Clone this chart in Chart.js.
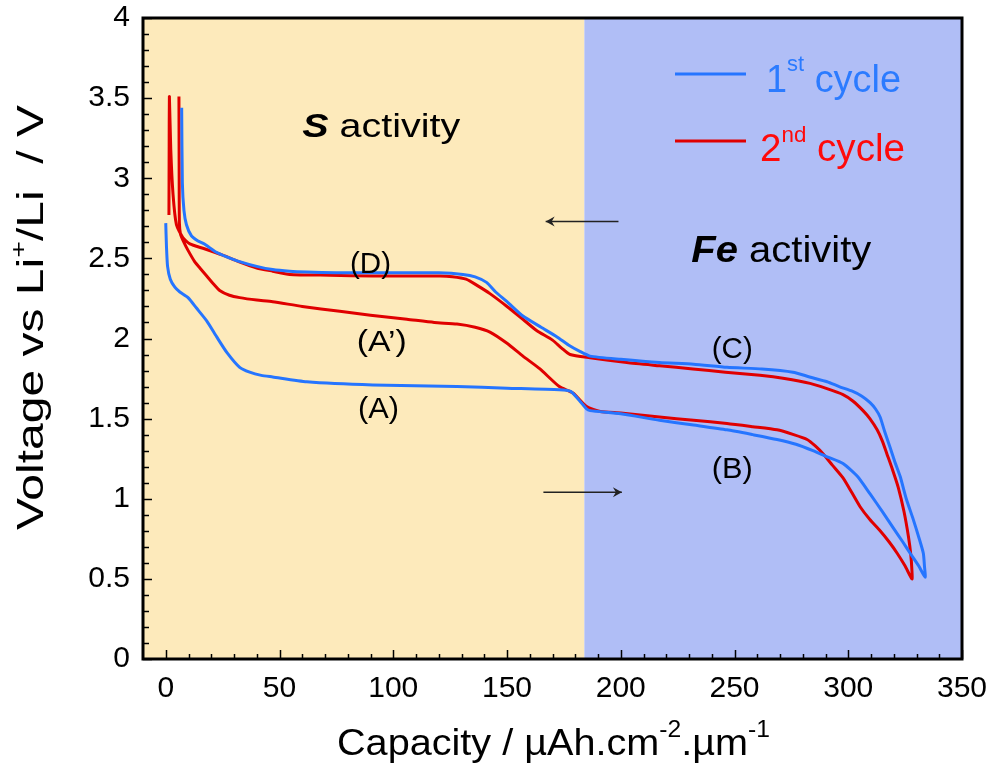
<!DOCTYPE html>
<html>
<head>
<meta charset="utf-8">
<script src="https://cdn.jsdelivr.net/npm/chart.js@4.4.1/dist/chart.umd.min.js"></script>
<style>
  html, body { margin: 0; padding: 0; background: #fff; }
  #wrap { width: 990px; height: 766px; }
</style>
</head>
<body>
<div id="wrap"><canvas id="cvChart" width="990" height="766"></canvas></div>
<script>
// axis ticks
const xTicks = [0, 50, 100, 150, 200, 250, 300, 350];
const yTicks = [0, 0.5, 1, 1.5, 2, 2.5, 3, 3.5, 4];

// S / Fe boundary (capacity)
const regionSplit = 184;

// 1st cycle : discharge (A -> B) then charge (C -> D)
const cycle1Cap = [
  0, 0.3, 0.8, 2, 4, 6.2, 9.8, 13.5, 18, 22.4, 27, 32.5, 36.9, 42, 47, 62, 91, 128, 150, 173,
  178, 182, 185, 186.5, 200, 217, 232, 246.7, 258, 268.7, 277, 284.5, 291, 297.7, 304, 309.6,
  315, 319.7, 324, 327.2, 331, 333.8,
  333.5, 333, 331, 328.6, 325.5, 322.8, 320.5, 318.4, 316, 314, 312, 309.6, 306, 302, 296,
  290.7, 283, 275.7, 262, 246.7, 232, 217, 200, 186.5, 182, 177, 172, 165, 157, 150, 145, 141,
  136, 130.6, 120, 106, 90, 75, 62, 54.5, 47, 40, 32.5, 26.8, 22, 17, 14, 11.3, 9.1, 8, 7.3, 7
];
const cycle1Volt = [
  2.72, 2.58, 2.45, 2.37, 2.32, 2.29, 2.255, 2.19, 2.11, 2.01, 1.91, 1.82, 1.79, 1.77, 1.76, 1.73, 1.71, 1.70, 1.69, 1.68,
  1.67, 1.61, 1.56, 1.55, 1.53, 1.49, 1.46, 1.43, 1.40, 1.37, 1.34, 1.30, 1.26, 1.22, 1.14, 1.03,
  0.92, 0.82, 0.73, 0.66, 0.58, 0.51,
  0.58, 0.66, 0.76, 0.87, 1.0, 1.14, 1.23, 1.32, 1.42, 1.51, 1.56, 1.60, 1.64, 1.67, 1.70,
  1.73, 1.76, 1.79, 1.81, 1.82, 1.84, 1.85, 1.87, 1.89, 1.92, 1.96, 2.01, 2.07, 2.14, 2.23, 2.29, 2.35,
  2.385, 2.40, 2.41, 2.41, 2.41, 2.41, 2.415, 2.42, 2.43, 2.45, 2.48, 2.51, 2.54, 2.59, 2.61, 2.64, 2.71, 2.80, 2.97, 3.44
];

// 2nd cycle : discharge (A' -> B) then charge (C -> D)
const cycle2Cap = [
  5.8, 5.9, 6.0, 6.5, 8, 9.8, 12.7, 15, 18, 21, 23.7, 28, 32.5, 40, 47, 60, 76.5, 90, 106, 118,
  128, 136, 142.5, 150, 157, 164.5, 173, 179, 185, 191, 200, 217, 232, 246.7, 258, 268.7, 276,
  281.9, 285.5, 289, 293, 297.7, 301.5, 305.2, 309.5, 314, 318, 321.5, 325, 328,
  328, 327.5, 326.5, 324.5, 322, 319.5, 317, 315, 312.7, 309.5, 306.5, 302, 297.7, 290, 283.2,
  272, 261.2, 246, 231.7, 217, 202.7, 186.5, 177.7, 174, 170, 163, 157, 150, 142.5, 137, 132,
  126, 120.5, 106, 91, 72, 54.5, 47, 40, 32, 25, 17, 10.6, 7.5, 4.7, 3.2, 2.2, 1.6, 1.5, 1.4
];
const cycle2Volt = [
  3.51, 3.0, 2.72, 2.65, 2.60, 2.55, 2.48, 2.44, 2.39, 2.34, 2.30, 2.27, 2.255, 2.24, 2.23, 2.20, 2.17, 2.145, 2.12, 2.10,
  2.09, 2.07, 2.04, 1.97, 1.89, 1.81, 1.70, 1.66, 1.575, 1.545, 1.535, 1.51, 1.49, 1.47, 1.45, 1.43, 1.40,
  1.37, 1.33, 1.28, 1.21, 1.13, 1.04, 0.95, 0.87, 0.80, 0.73, 0.66, 0.58, 0.50,
  0.55, 0.65, 0.76, 0.92, 1.07, 1.18, 1.28, 1.36, 1.43, 1.50, 1.55, 1.61, 1.65, 1.69, 1.72,
  1.75, 1.77, 1.79, 1.81, 1.83, 1.85, 1.88, 1.90, 1.94, 1.99, 2.05, 2.12, 2.20, 2.28, 2.33, 2.37,
  2.385, 2.39, 2.39, 2.39, 2.395, 2.40, 2.42, 2.44, 2.48, 2.52, 2.56, 2.59, 2.63, 2.71, 2.90, 3.18, 3.51, 3.2, 2.77
];

// annotation text, anchored at (capacity, voltage)
const labelText = ['(D)', '(A\u2019)', '(A)', '(C)', '(B)'];
const labelCap = [81, 84, 84.5, 240, 240];
const labelVolt = [2.41, 1.92, 1.505, 1.876, 1.128];

const FONT = "'Liberation Sans', Arial, sans-serif";
const NARROW = "'Liberation Sans Narrow', 'Liberation Sans', Arial, sans-serif";
const blueLine = '#2575FF';
const redLine = '#E00000';
const tanBg = '#FDEABB';
const blueBg = '#B0BEF6';

function toPoints(xs, ys) {
  return xs.map((x, i) => ({ x: x, y: ys[i] }));
}

// text runs (with superscripts), stretched to a target width
function drawRuns(ctx, runs, x, y, fitWidth, rotate) {
  ctx.save();
  ctx.translate(x, y);
  if (rotate) ctx.rotate(-Math.PI / 2);
  let natural = 0;
  runs.forEach(r => { ctx.font = r.font; natural += ctx.measureText(r.text).width; });
  const k = fitWidth ? fitWidth / natural : 1;
  ctx.scale(k, 1);
  ctx.textAlign = 'left';
  ctx.textBaseline = 'alphabetic';
  let cx = 0;
  runs.forEach(r => {
    ctx.font = r.font;
    ctx.fillStyle = r.color || '#000';
    ctx.fillText(r.text, cx, r.dy || 0);
    cx += ctx.measureText(r.text).width;
  });
  ctx.restore();
}

function arrow(ctx, x1, y1, x2, y2) {
  const dir = Math.sign(x2 - x1);
  ctx.beginPath();
  ctx.moveTo(x1, y1);
  ctx.lineTo(x2, y2);
  ctx.stroke();
  ctx.beginPath();
  ctx.moveTo(x2, y2);
  ctx.lineTo(x2 - dir * 9, y2 - 5);
  ctx.lineTo(x2 - dir * 6, y2);
  ctx.lineTo(x2 - dir * 9, y2 + 5);
  ctx.closePath();
  ctx.fill();
}

const backgroundPlugin = {
  id: 'regions',
  beforeDatasetsDraw(chart) {
    const { ctx, chartArea: a, scales: { x } } = chart;
    const split = x.getPixelForValue(regionSplit);
    ctx.save();
    ctx.fillStyle = tanBg;
    ctx.fillRect(a.left, a.top, split - a.left, a.bottom - a.top);
    ctx.fillStyle = blueBg;
    ctx.fillRect(split, a.top, a.right - split, a.bottom - a.top);
    ctx.restore();
  }
};

const framePlugin = {
  id: 'frame',
  afterDatasetsDraw(chart) {
    const { ctx, chartArea: a, scales: { x, y } } = chart;
    ctx.save();
    ctx.strokeStyle = '#000';
    ctx.lineWidth = 1.5;
    // inside ticks on the left, every 0.1 V
    for (let i = 0; i <= 40; i++) {
      const py = Math.round(y.getPixelForValue(i / 10)) + 0.5;
      const len = i % 5 === 0 ? 9 : 6;
      ctx.beginPath();
      ctx.moveTo(a.left, py);
      ctx.lineTo(a.left + len, py);
      ctx.stroke();
    }
    // inside ticks at the bottom, every 10
    for (let v = 0; v <= 350; v += 10) {
      const px = Math.round(x.getPixelForValue(v)) + 0.5;
      const len = v % 50 === 0 ? 9 : 5;
      ctx.beginPath();
      ctx.moveTo(px, a.bottom);
      ctx.lineTo(px, a.bottom - len);
      ctx.stroke();
    }
    ctx.lineWidth = 3;
    ctx.strokeRect(a.left, a.top, a.right - a.left, a.bottom - a.top);
    ctx.restore();
  }
};

const textPlugin = {
  id: 'texts',
  afterDraw(chart) {
    const { ctx, scales: { x, y } } = chart;
    ctx.save();

    // region names
    drawRuns(ctx, [
      { text: 'S', font: 'italic bold 34px ' + FONT },
      { text: ' activity', font: '34px ' + FONT }
    ], x.getPixelForValue(60), y.getPixelForValue(3.257), 158);
    drawRuns(ctx, [
      { text: 'Fe', font: 'italic bold 36px ' + FONT },
      { text: ' activity', font: '36px ' + FONT }
    ], x.getPixelForValue(231), y.getPixelForValue(2.477), 180);

    // branch labels
    labelText.forEach((t, i) => {
      drawRuns(ctx, [{ text: t, font: '30px ' + FONT }],
        x.getPixelForValue(labelCap[i]), y.getPixelForValue(labelVolt[i]), t.length > 3 ? 50 : 41);
    });

    // direction arrows
    ctx.strokeStyle = '#222';
    ctx.fillStyle = '#222';
    ctx.lineWidth = 1.5;
    const ay1 = y.getPixelForValue(2.73);
    arrow(ctx, x.getPixelForValue(199), ay1, x.getPixelForValue(167), ay1);
    const ay2 = y.getPixelForValue(1.04);
    arrow(ctx, x.getPixelForValue(166), ay2, x.getPixelForValue(200.5), ay2);

    // legend
    ctx.lineWidth = 3;
    ctx.strokeStyle = blueLine;
    ctx.beginPath(); ctx.moveTo(675, 74); ctx.lineTo(746, 74); ctx.stroke();
    ctx.strokeStyle = redLine;
    ctx.beginPath(); ctx.moveTo(675, 141); ctx.lineTo(746, 141); ctx.stroke();
    drawRuns(ctx, [
      { text: '1', font: '38px ' + FONT, color: '#2B7BFF' },
      { text: 'st', font: '22px ' + FONT, color: '#2B7BFF', dy: -21 },
      { text: ' cycle', font: '38px ' + FONT, color: '#2B7BFF' }
    ], 766, 92, 135);
    drawRuns(ctx, [
      { text: '2', font: '38px ' + FONT, color: '#FF0A0A' },
      { text: 'nd', font: '22px ' + FONT, color: '#FF0A0A', dy: -19 },
      { text: ' cycle', font: '38px ' + FONT, color: '#FF0A0A' }
    ], 760, 161, 145);

    // axis titles
    drawRuns(ctx, [
      { text: 'Voltage vs Li', font: '37px ' + FONT },
      { text: '+', font: '22px ' + FONT, dy: -17 },
      { text: '/Li  / V', font: '37px ' + FONT }
    ], 43, 530, 425, true);
    drawRuns(ctx, [
      { text: 'Capacity / \u00B5Ah.cm', font: '37px ' + FONT },
      { text: '-2', font: '23px ' + FONT, dy: -18 },
      { text: '.\u00B5m', font: '37px ' + FONT },
      { text: '-1', font: '23px ' + FONT, dy: -18 }
    ], 337, 755, 433);

    ctx.restore();
  }
};

new Chart(document.getElementById('cvChart'), {
  type: 'scatter',
  data: {
    datasets: [
      {
        label: '1st cycle',
        data: toPoints(cycle1Cap, cycle1Volt),
        showLine: true,
        borderColor: blueLine,
        borderWidth: 3,
        pointRadius: 0,
        tension: 0.2
      },
      {
        label: '2nd cycle',
        data: toPoints(cycle2Cap, cycle2Volt),
        showLine: true,
        borderColor: redLine,
        borderWidth: 3,
        pointRadius: 0,
        tension: 0.2
      }
    ]
  },
  options: {
    responsive: false,
    animation: false,
    layout: { padding: { left: 0, right: 28, top: 18, bottom: 0 } },
    plugins: { legend: { display: false }, tooltip: { enabled: false } },
    scales: {
      x: {
        type: 'linear',
        min: -10,
        max: 350,
        afterBuildTicks: s => { s.ticks = xTicks.map(v => ({ value: v })); },
        afterFit: s => { s.height = 107; s.paddingLeft = 0; s.paddingRight = 0; },
        grid: { display: false, drawTicks: false },
        border: { display: false },
        ticks: { padding: 12, color: '#000', maxRotation: 0, font: { family: NARROW, size: 30 }, callback: v => String(v) }
      },
      y: {
        type: 'linear',
        min: 0,
        max: 4,
        afterBuildTicks: s => { s.ticks = yTicks.map(v => ({ value: v })); },
        afterFit: s => { s.width = 143; s.paddingTop = 0; s.paddingBottom = 0; },
        grid: { display: false, drawTicks: false },
        border: { display: false },
        ticks: { padding: 13, color: '#000', font: { family: FONT, size: 30 }, callback: v => String(v) }
      }
    }
  },
  plugins: [backgroundPlugin, framePlugin, textPlugin]
});
</script>
</body>
</html>
